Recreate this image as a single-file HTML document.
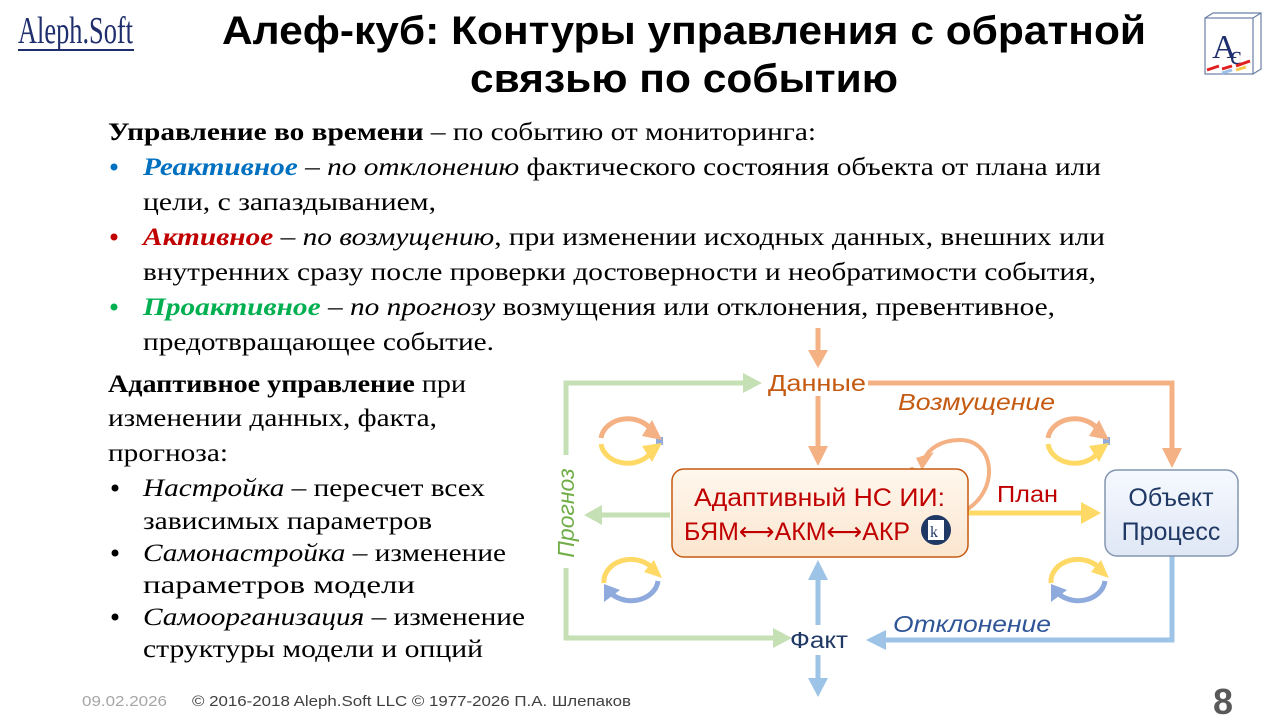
<!DOCTYPE html>
<html><head><meta charset="utf-8">
<style>
html,body{margin:0;padding:0;background:#fff;width:1280px;height:720px;overflow:hidden}
svg{display:block}
.s{font-family:"Liberation Serif","DejaVu Serif",serif;font-size:25px;fill:#000}
.a{font-family:"Liberation Sans","DejaVu Sans",sans-serif}
</style></head><body>
<svg width="1280" height="720" viewBox="0 0 1280 720" xmlns="http://www.w3.org/2000/svg">
<defs>
<linearGradient id="g1" x1="0" y1="0" x2="0" y2="1"><stop offset="0" stop-color="#fff7ee"/><stop offset="1" stop-color="#fbe6cf"/></linearGradient>
<linearGradient id="g2" x1="0" y1="0" x2="0" y2="1"><stop offset="0" stop-color="#f6f9ff"/><stop offset="1" stop-color="#dfe7f5"/></linearGradient>
</defs>
<!-- logo -->
<text x="18" y="43" font-family="Liberation Serif,serif" font-size="38" fill="#1f2f6e" textLength="115" lengthAdjust="spacingAndGlyphs">Aleph.Soft</text>
<rect x="18" y="49" width="116" height="2" fill="#1f2f6e"/>
<!-- right icon -->
<rect x="1205" y="18" width="48" height="56" fill="#fff" stroke="#6a7fa8" stroke-width="1.2"/>
<path d="M1205 18 l8 -5 h48 v56 l-8 5 M1253 18 l8 -5" fill="none" stroke="#6a7fa8" stroke-width="1.2"/>
<text x="1212" y="58" font-family="Liberation Serif,serif" font-size="34" fill="#1f2f6e">A</text>
<text x="1230" y="64" font-family="Liberation Serif,serif" font-size="26" fill="#1f2f6e">c</text>
<path d="M1207 70 l12 -4 M1222 69 l10 -3 M1236 66 l14 -5" stroke="#e02020" stroke-width="3"/>
<path d="M1222 73 l10 -3" stroke="#9cc0e8" stroke-width="3"/><path d="M1236 70 l10 -3" stroke="#f6c84a" stroke-width="3"/>
<!-- title -->
<text class="a" x="222" y="44" font-size="40" font-weight="bold" textLength="924" lengthAdjust="spacingAndGlyphs">Алеф-куб: Контуры управления с обратной</text>
<text class="a" x="470" y="92" font-size="40" font-weight="bold" textLength="428" lengthAdjust="spacingAndGlyphs">связью по событию</text>
<!-- body -->
<text class="s" x="108" y="140" textLength="708" lengthAdjust="spacingAndGlyphs"><tspan font-weight="bold">Управление во времени</tspan> – по событию от мониторинга:</text>
<circle cx="114" cy="167" r="3.5" fill="#0070c0"/>
<text class="s" x="143" y="175" textLength="958" lengthAdjust="spacingAndGlyphs"><tspan font-weight="bold" font-style="italic" fill="#0070c0">Реактивное</tspan><tspan font-style="italic"> – по отклонению</tspan> фактического состояния объекта от плана или</text>
<text class="s" x="143" y="210" textLength="293" lengthAdjust="spacingAndGlyphs">цели, с запаздыванием,</text>
<circle cx="114" cy="237" r="3.5" fill="#c00000"/>
<text class="s" x="143" y="245" textLength="962" lengthAdjust="spacingAndGlyphs"><tspan font-weight="bold" font-style="italic" fill="#c00000">Активное</tspan><tspan font-style="italic"> – по возмущению</tspan>, при изменении исходных данных, внешних или</text>
<text class="s" x="143" y="280" textLength="953" lengthAdjust="spacingAndGlyphs">внутренних сразу после проверки достоверности и необратимости события,</text>
<circle cx="114" cy="307" r="3.5" fill="#00b050"/>
<text class="s" x="143" y="315" textLength="912" lengthAdjust="spacingAndGlyphs"><tspan font-weight="bold" font-style="italic" fill="#00b050">Проактивное</tspan><tspan font-style="italic"> – по прогнозу</tspan> возмущения или отклонения, превентивное,</text>
<text class="s" x="143" y="350" textLength="351" lengthAdjust="spacingAndGlyphs">предотвращающее событие.</text>
<text class="s" x="108" y="392" textLength="358" lengthAdjust="spacingAndGlyphs"><tspan font-weight="bold">Адаптивное управление</tspan> при</text>
<text class="s" x="108" y="426" textLength="329" lengthAdjust="spacingAndGlyphs">изменении данных, факта,</text>
<text class="s" x="108" y="461" textLength="120" lengthAdjust="spacingAndGlyphs">прогноза:</text>
<circle cx="115" cy="488" r="3.5" fill="#000"/>
<text class="s" x="143" y="496" textLength="342" lengthAdjust="spacingAndGlyphs"><tspan font-style="italic">Настройка</tspan> – пересчет всех</text>
<text class="s" x="143" y="529" textLength="289" lengthAdjust="spacingAndGlyphs">зависимых параметров</text>
<circle cx="115" cy="553" r="3.5" fill="#000"/>
<text class="s" x="143" y="561" textLength="363" lengthAdjust="spacingAndGlyphs"><tspan font-style="italic">Самонастройка</tspan> – изменение</text>
<text class="s" x="143" y="593" textLength="272" lengthAdjust="spacingAndGlyphs">параметров модели</text>
<circle cx="115" cy="617" r="3.5" fill="#000"/>
<text class="s" x="143" y="625" textLength="382" lengthAdjust="spacingAndGlyphs"><tspan font-style="italic">Самоорганизация</tspan> – изменение</text>
<text class="s" x="143" y="657" textLength="340" lengthAdjust="spacingAndGlyphs">структуры модели и опций</text>

<!-- diagram lines -->
<g fill="none" stroke-width="5">
<path d="M818 328 V352" stroke="#f4b183"/>
<path d="M818 396 V448" stroke="#f4b183"/>
<path d="M868 383 H1172 V450" stroke="#f4b183"/>
<path d="M566 455 V383 H745" stroke="#c5e0b4"/>
<path d="M566 568 V638 H775" stroke="#c5e0b4"/>
<path d="M670 515 H600" stroke="#c5e0b4"/>
<path d="M968 513 H1083" stroke="#ffd966"/>
<path d="M1172 556 V640 H884" stroke="#9dc3e6"/>
<path d="M818 578 V625" stroke="#9dc3e6"/>
<path d="M818 655 V680" stroke="#9dc3e6"/>
<path d="M966 510 C1000 490 995 440 960 440 C940 440 928 450 925 458" stroke="#f4b183" stroke-width="4"/>
</g>
<g stroke="none">
<polygon points="808,350 828,350 818,368" fill="#f4b183"/>
<polygon points="808,446 828,446 818,466" fill="#f4b183"/>
<polygon points="1162,448 1182,448 1172,468" fill="#f4b183"/>
<polygon points="743,373 743,393 762,383" fill="#c5e0b4"/>
<polygon points="773,628 773,648 792,638" fill="#c5e0b4"/>
<polygon points="602,505 602,525 584,515" fill="#c5e0b4"/>
<polygon points="1081,502 1081,524 1101,513" fill="#ffd966"/>
<polygon points="886,630 886,650 866,640" fill="#9dc3e6"/>
<polygon points="808,580 828,580 818,560" fill="#9dc3e6"/>
<polygon points="808,678 828,678 818,697" fill="#9dc3e6"/>
<polygon points="916,458 934,452 922,470" fill="#f4b183"/>
</g>
<circle cx="912" cy="470" r="3" fill="#f4b183"/>
<!-- boxes -->
<rect x="672" y="469" width="296" height="88" rx="12" fill="url(#g1)" stroke="#c55a11" stroke-width="1.5"/>
<text class="a" x="694" y="506" font-size="25" fill="#c00000" textLength="251" lengthAdjust="spacingAndGlyphs">Адаптивный НС ИИ:</text>
<text class="a" x="684" y="540" font-size="25" fill="#c00000" textLength="226" lengthAdjust="spacingAndGlyphs">БЯМ⟷АКМ⟷АКР</text>
<circle cx="936" cy="530" r="15" fill="#1f3864"/><rect x="928" y="520" width="16" height="20" fill="#fff"/>
<text x="930" y="537" font-family="Liberation Serif,serif" font-size="16" fill="#1f3864">k</text>
<rect x="1105" y="470" width="133" height="86" rx="12" fill="url(#g2)" stroke="#8496b0" stroke-width="1.5"/>
<text class="a" x="1171" y="506" font-size="25" fill="#1f3864" text-anchor="middle">Объект</text>
<text class="a" x="1171" y="540" font-size="25" fill="#1f3864" text-anchor="middle">Процесс</text>
<!-- labels -->
<text class="a" x="768" y="391" font-size="23" fill="#c55a11" textLength="98" lengthAdjust="spacingAndGlyphs">Данные</text>
<text class="a" x="898" y="410" font-size="23" font-style="italic" fill="#c55a11" textLength="157" lengthAdjust="spacingAndGlyphs">Возмущение</text>
<text class="a" x="997" y="502" font-size="23" fill="#c00000" textLength="61" lengthAdjust="spacingAndGlyphs">План</text>
<text class="a" x="790" y="648" font-size="23" fill="#1f3864" textLength="58" lengthAdjust="spacingAndGlyphs">Факт</text>
<text class="a" x="893" y="632" font-size="23" font-style="italic" fill="#2f5597" textLength="158" lengthAdjust="spacingAndGlyphs">Отклонение</text>
<text class="a" x="0" y="0" font-size="23" font-style="italic" fill="#70ad47" text-anchor="middle" transform="translate(574,513) rotate(-90)">Прогноз</text>
<!-- cycle icons -->
<g fill="none" stroke-width="5">
<g transform="translate(628,441)">
<path d="M-27 -3 A27 22 0 0 1 24 -10" stroke="#f4b183"/><path d="M-27 3 A27 22 0 0 0 24 10" stroke="#ffd966"/>
<rect x="28" y="-4" width="7" height="8" fill="#8faadc" stroke="none"/>
</g>
<g transform="translate(1075,441)">
<path d="M-27 -3 A27 22 0 0 1 24 -10" stroke="#f4b183"/><path d="M-27 3 A27 22 0 0 0 24 10" stroke="#ffd966"/>
<rect x="28" y="-4" width="7" height="8" fill="#8faadc" stroke="none"/>
</g>
<g transform="translate(630,578)">
<path d="M-26 5 A27 22 0 0 1 24 -8" stroke="#ffd966"/><path d="M28 3 A27 22 0 0 1 -22 12" stroke="#8faadc"/>
</g>
<g transform="translate(1077,578)">
<path d="M-26 5 A27 22 0 0 1 24 -8" stroke="#ffd966"/><path d="M28 3 A27 22 0 0 1 -22 12" stroke="#8faadc"/>
</g>
</g>
<g stroke="none">
<polygon points="652,420 662,440 642,436" fill="#f4b183"/><polygon points="652,462 662,443 642,446" fill="#ffd966"/>
<polygon points="1099,420 1109,440 1089,436" fill="#f4b183"/><polygon points="1099,462 1109,443 1089,446" fill="#ffd966"/>
<polygon points="654,560 662,578 644,572" fill="#ffd966"/><polygon points="604,584 620,590 604,602" fill="#8faadc"/>
<polygon points="1101,560 1109,578 1091,572" fill="#ffd966"/><polygon points="1051,584 1067,590 1051,602" fill="#8faadc"/>
</g>
<!-- footer -->
<text class="a" x="82" y="706" font-size="15" fill="#a6a6a6" textLength="85" lengthAdjust="spacingAndGlyphs">09.02.2026</text>
<text class="a" x="192" y="706" font-size="15" fill="#404040" textLength="439" lengthAdjust="spacingAndGlyphs">© 2016-2018 Aleph.Soft LLC © 1977-2026 П.А. Шлепаков</text>
<text class="a" x="1223" y="714" font-size="36" font-weight="bold" fill="#595959" text-anchor="middle">8</text>
</svg>
</body></html>
